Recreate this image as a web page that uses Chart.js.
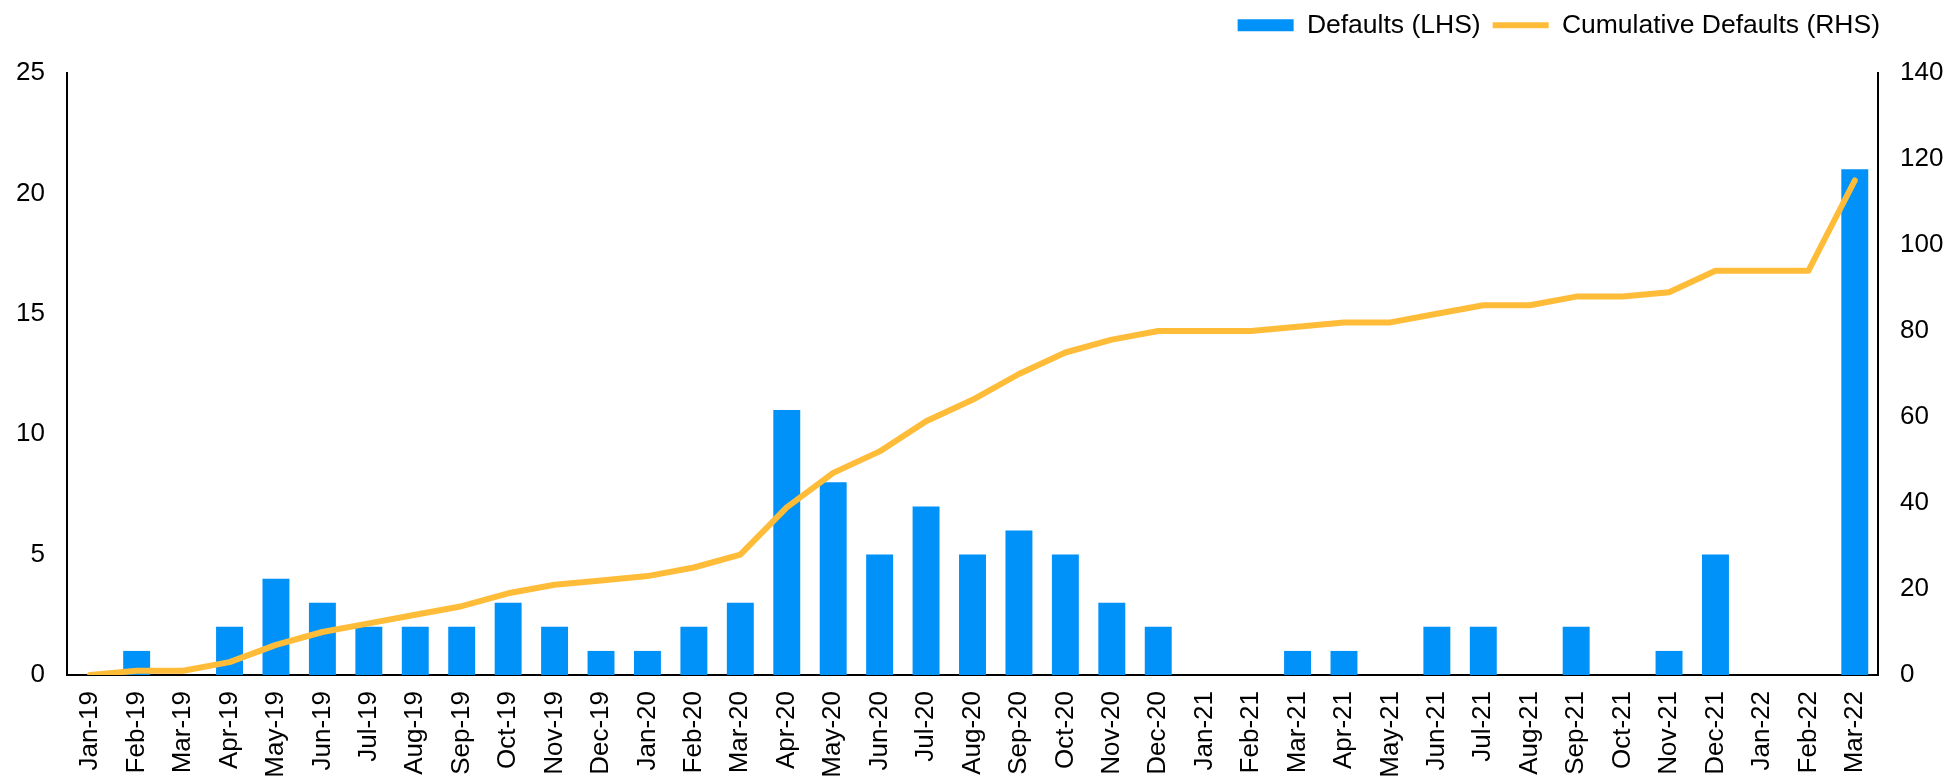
<!DOCTYPE html>
<html>
<head>
<meta charset="utf-8">
<script src="https://cdn.jsdelivr.net/npm/chart.js@4"></script>
<style>
    html, body { margin: 0; padding: 0; background: #fff; }
    #wrap { width: 1951px; height: 780px; }
</style>
</head>
<body>
<div id="wrap"><canvas id="defaultsChart" width="1951" height="780"></canvas></div>
<script>
// Month labels (Jan-19 .. Mar-22)
const months = [
    'Jan-19', 'Feb-19', 'Mar-19', 'Apr-19', 'May-19', 'Jun-19', 'Jul-19', 'Aug-19', 'Sep-19', 'Oct-19', 'Nov-19', 'Dec-19',
    'Jan-20', 'Feb-20', 'Mar-20', 'Apr-20', 'May-20', 'Jun-20', 'Jul-20', 'Aug-20', 'Sep-20', 'Oct-20', 'Nov-20', 'Dec-20',
    'Jan-21', 'Feb-21', 'Mar-21', 'Apr-21', 'May-21', 'Jun-21', 'Jul-21', 'Aug-21', 'Sep-21', 'Oct-21', 'Nov-21', 'Dec-21',
    'Jan-22', 'Feb-22', 'Mar-22'
];

// Monthly defaults (LHS)
const defaults = [
    0, 1, 0, 2, 4, 3, 2, 2, 2, 3, 2, 1,
    1, 2, 3, 11, 8, 5, 7, 5, 6, 5, 3, 2,
    0, 0, 1, 1, 0, 2, 2, 0, 2, 0, 1, 5,
    0, 0, 21
];

// Cumulative defaults (RHS)
const cumulative = [
    0, 1, 1, 3, 7, 10, 12, 14, 16, 19, 21, 22,
    23, 25, 28, 39, 47, 52, 59, 64, 70, 75, 78, 80,
    80, 80, 81, 82, 82, 84, 86, 86, 88, 88, 89, 94,
    94, 94, 115
];

const leftTicks = [0, 5, 10, 15, 20, 25];
const rightTicks = [0, 20, 40, 60, 80, 100, 120, 140];

const barColor = 'rgb(0, 145, 249)';
const lineColor = 'rgb(255, 188, 56)';
const fontFamily = 'Arial, "Liberation Sans", sans-serif';

// legend sits in its own strip above the plot, right end near the right axis
const legendSpace = {
    id: 'legendSpace',
    beforeInit: function(chart) {
        const origFit = chart.legend.fit;
        chart.legend.fit = function() {
            origFit.bind(chart.legend)();
            this.height = 73;
        };
    },
    beforeDraw: function(chart) {
        chart.legend.right = 1892;
    }
};

const ctx = document.getElementById('defaultsChart').getContext('2d');
const chart = new Chart(ctx, {
    type: 'bar',
    data: {
        labels: months,
        datasets: [{
            type: 'bar',
            label: 'Defaults (LHS)',
            data: defaults,
            backgroundColor: barColor,
            borderWidth: 0,
            barPercentage: 0.58,
            categoryPercentage: 1,
            yAxisID: 'y',
            order: 1,
            pointStyle: 'rect'
        }, {
            type: 'line',
            label: 'Cumulative Defaults (RHS)',
            data: cumulative,
            borderColor: lineColor,
            backgroundColor: lineColor,
            borderWidth: 6,
            borderCapStyle: 'round',
            borderJoinStyle: 'round',
            pointRadius: 0,
            tension: 0,
            fill: false,
            yAxisID: 'y1',
            order: 0,
            pointStyle: 'line'
        }]
    },
    options: {
        responsive: false,
        animation: false,
        layout: {
            padding: { left: 15, right: 5, top: 0, bottom: 0 }
        },
        plugins: {
            legend: {
                position: 'top',
                align: 'end',
                labels: {
                    usePointStyle: true,
                    pointStyleWidth: 56,
                    boxHeight: 12,
                    padding: 12,
                    color: '#000',
                    font: { family: fontFamily, size: 26.5 },
                    sort: (a, b) => a.datasetIndex - b.datasetIndex
                }
            },
            tooltip: { enabled: false }
        },
        scales: {
            x: {
                grid: { display: false, drawTicks: false },
                border: { display: true, color: '#000', width: 2 },
                afterFit: function(axis) { axis.height = 105; },
                ticks: {
                    autoSkip: false,
                    minRotation: 90,
                    maxRotation: 90,
                    padding: 16,
                    color: '#000',
                    font: { family: fontFamily, size: 26 }
                }
            },
            y: {
                position: 'left',
                min: 0,
                max: 25,
                grid: { display: false, drawTicks: false },
                border: { display: true, color: '#000', width: 2 },
                afterFit: function(axis) { axis.width = 52; },
                afterBuildTicks: function(axis) {
                    axis.ticks = leftTicks.map(v => ({ value: v }));
                },
                ticks: {
                    padding: 22,
                    color: '#000',
                    font: { family: fontFamily, size: 26 }
                }
            },
            y1: {
                position: 'right',
                min: 0,
                max: 140,
                grid: { display: false, drawTicks: false },
                border: { display: true, color: '#000', width: 2 },
                afterFit: function(axis) { axis.width = 68; },
                afterBuildTicks: function(axis) {
                    axis.ticks = rightTicks.map(v => ({ value: v }));
                },
                ticks: {
                    padding: 22,
                    color: '#000',
                    font: { family: fontFamily, size: 26 }
                }
            }
        }
    },
    plugins: [legendSpace]
});
</script>
</body>
</html>
